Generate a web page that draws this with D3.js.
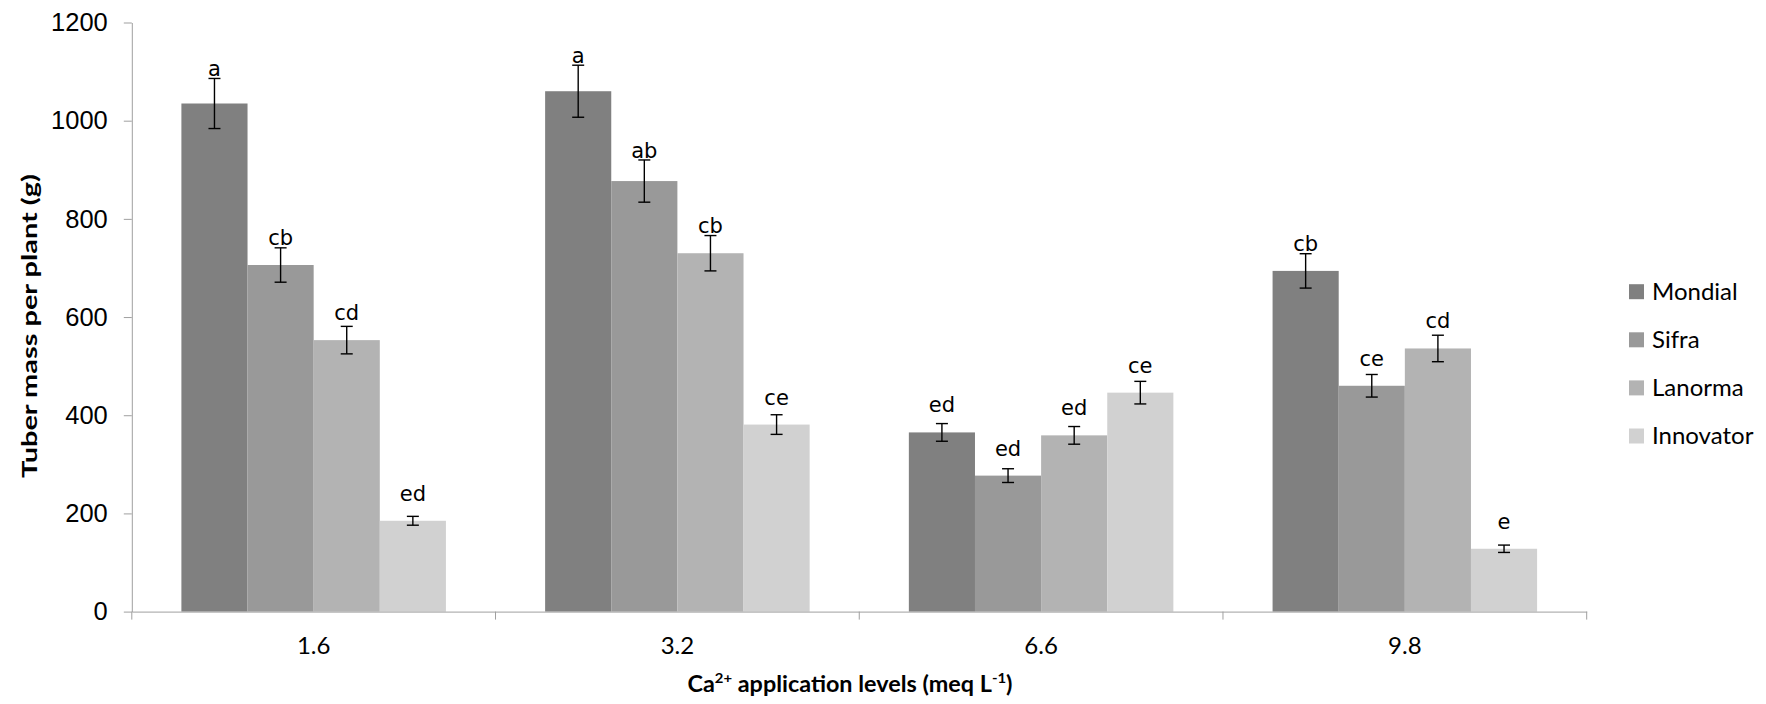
<!DOCTYPE html>
<html>
<head>
<meta charset="utf-8">
<script src="https://cdn.jsdelivr.net/npm/d3@7"></script>
<style>
  html, body { margin: 0; padding: 0; background: #ffffff; }
  svg { display: block; }
</style>
</head>
<body>
<svg id="chart" width="1766" height="704"></svg>
<script>
// Ca2+ application levels (meq L-1)
const categories = ["1.6", "3.2", "6.6", "9.8"];
const cultivars = ["Mondial", "Sifra", "Lanorma", "Innovator"];

// Mean tuber mass per plant (g) for each cultivar, by Ca2+ level
const mondial   = [1035, 1060, 365, 694];
const sifra     = [706, 877, 277, 460];
const lanorma   = [553, 730, 359, 536];
const innovator = [185, 381, 446, 128];

// Error bar half-lengths (g)
const mondialErr   = [51, 53, 18, 35];
const sifraErr     = [35, 43, 14, 23];
const lanormaErr   = [28, 36, 18, 27];
const innovatorErr = [9, 20, 23, 7.5];

// Mean separation letters
const mondialLetters   = ["a", "a", "ed", "cb"];
const sifraLetters     = ["cb", "ab", "ed", "ce"];
const lanormaLetters   = ["cd", "cb", "ed", "cd"];
const innovatorLetters = ["ed", "ce", "ce", "e"];

const yTicks = [0, 200, 400, 600, 800, 1000, 1200];

const seriesValues  = [mondial, sifra, lanorma, innovator];
const seriesErrors  = [mondialErr, sifraErr, lanormaErr, innovatorErr];
const seriesLetters = [mondialLetters, sifraLetters, lanormaLetters, innovatorLetters];
const colors = ["#808080", "#999999", "#b3b3b3", "#d1d1d1"];

const rows = [];
categories.forEach((c, ci) => {
  cultivars.forEach((s, si) => {
    rows.push({
      cat: c, series: s, si,
      value: seriesValues[si][ci],
      err: seriesErrors[si][ci],
      letter: seriesLetters[si][ci]
    });
  });
});

const svg = d3.select("#chart");
const plot = { left: 131.8, right: 1586.7, top: 22.5, bottom: 611.6 };
const axisColor = "#9f9f9f";

const y = d3.scaleLinear().domain([0, 1200]).range([plot.bottom, plot.top]);
const x0 = d3.scaleBand().domain(categories).range([plot.left, plot.right]).padding(0);
const x1 = d3.scaleBand().domain(cultivars).range([0, x0.bandwidth()])
  .paddingInner(0).paddingOuter(0.75);
const color = d3.scaleOrdinal().domain(cultivars).range(colors);

// Bars
svg.append("g").selectAll("rect").data(rows).join("rect")
  .attr("x", d => x0(d.cat) + x1(d.series))
  .attr("y", d => y(d.value))
  .attr("width", x1.bandwidth())
  .attr("height", d => y(0) - y(d.value))
  .attr("fill", d => color(d.series));

// Y axis
const yAxis = svg.append("g")
  .attr("transform", `translate(${plot.left},0)`)
  .call(d3.axisLeft(y).tickValues(yTicks).tickFormat(d3.format("d"))
    .tickSize(8).tickPadding(16).tickSizeOuter(0));
yAxis.select(".domain").attr("stroke", axisColor);
yAxis.selectAll(".tick line").attr("stroke", axisColor);
yAxis.selectAll(".tick text")
  .attr("fill", "#000")
  .style("font-family", "'Liberation Sans', Arial, sans-serif")
  .style("font-size", "25.5px");

// X axis: baseline, boundary ticks and category labels
const xAxis = svg.append("g")
  .attr("transform", `translate(0,${plot.bottom})`)
  .call(d3.axisBottom(x0).tickSize(0).tickPadding(0).tickSizeOuter(0));
xAxis.select(".domain").attr("stroke", axisColor);
xAxis.selectAll(".tick text")
  .attr("y", 0).attr("dy", "42.5px")
  .attr("fill", "#000")
  .style("font-family", "Lato, 'Open Sans', sans-serif")
  .style("font-size", "24px");
const boundaries = categories.map(c => x0(c)).concat([x0.range()[1]]);
xAxis.selectAll("line.boundary").data(boundaries).join("line")
  .attr("class", "boundary")
  .attr("x1", d => d).attr("x2", d => d)
  .attr("y1", 0).attr("y2", 8)
  .attr("stroke", axisColor);

// Error bars
const eb = svg.append("g").attr("stroke", "#000").attr("stroke-width", 1.4);
rows.forEach(d => {
  const cx = x0(d.cat) + x1(d.series) + x1.bandwidth() / 2;
  const yt = y(d.value + d.err), yb = y(d.value - d.err);
  eb.append("line").attr("x1", cx).attr("x2", cx).attr("y1", yt).attr("y2", yb);
  eb.append("line").attr("x1", cx - 6).attr("x2", cx + 6).attr("y1", yt).attr("y2", yt);
  eb.append("line").attr("x1", cx - 6).attr("x2", cx + 6).attr("y1", yb).attr("y2", yb);
});

// Significance letters above the bars
svg.append("g").selectAll("text").data(rows).join("text")
  .attr("x", d => x0(d.cat) + x1(d.series) + x1.bandwidth() / 2)
  .attr("y", d => Math.min(y(d.value) - 20, y(d.value + d.err) - 2))
  .attr("text-anchor", "middle")
  .style("font-family", "'DejaVu Sans', sans-serif")
  .style("font-size", "21px")
  .attr("fill", "#000")
  .text(d => d.letter);

// Legend
const legend = svg.append("g").attr("transform", "translate(1629,291.7)");
const li = legend.selectAll("g").data(cultivars).join("g")
  .attr("transform", (d, i) => `translate(0,${i * 48.1})`);
li.append("rect").attr("x", 0).attr("y", -7.5).attr("width", 15).attr("height", 15)
  .attr("fill", d => color(d));
li.append("text").attr("x", 23).attr("y", 8)
  .style("font-family", "Lato, 'Open Sans', sans-serif")
  .style("font-size", "24px")
  .attr("fill", "#000")
  .text(d => d);

// Axis titles
svg.append("text")
  .attr("transform", "translate(36.5,326) rotate(-90)")
  .attr("text-anchor", "middle")
  .attr("textLength", 304).attr("lengthAdjust", "spacingAndGlyphs")
  .style("font-family", "Lato, 'Open Sans', sans-serif")
  .style("font-weight", "bold")
  .style("font-size", "20px")
  .attr("fill", "#000")
  .text("Tuber mass per plant (g)");

const xt = svg.append("text")
  .attr("x", 850).attr("y", 692)
  .attr("text-anchor", "middle")
  .attr("textLength", 325).attr("lengthAdjust", "spacingAndGlyphs")
  .style("font-family", "Lato, 'Open Sans', sans-serif")
  .style("font-weight", "bold")
  .style("font-size", "22px")
  .attr("fill", "#000");
xt.append("tspan").text("Ca");
xt.append("tspan").attr("dy", -9).style("font-size", "14px").text("2+");
xt.append("tspan").attr("dy", 9).text(" application levels (meq L");
xt.append("tspan").attr("dy", -9).style("font-size", "14px").text("-1");
xt.append("tspan").attr("dy", 9).text(")");
</script>
</body>
</html>
